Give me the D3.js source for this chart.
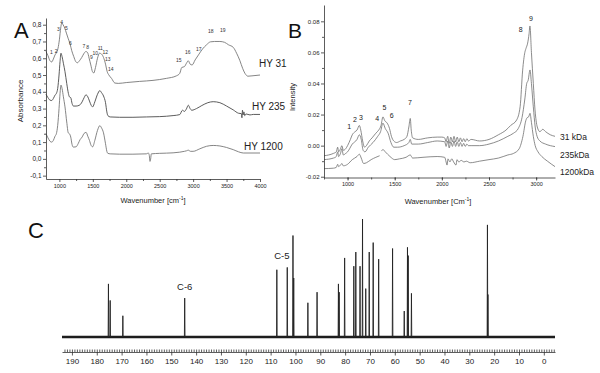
<!DOCTYPE html>
<html>
<head>
<meta charset="utf-8">
<script src="https://cdn.jsdelivr.net/npm/d3@7"></script>
<style>
  body { margin: 0; background: #fff; }
  svg { display: block; font-family: "Liberation Sans", Arial, sans-serif; }
  .axis path, .axis line { stroke: #333; stroke-width: 0.8; }
  .axis text { fill: #222; }
</style>
</head>
<body>
<svg id="chart" width="600" height="373"></svg>
<script>
// ---- panel A: IR spectra [wavenumber, absorbance]
const hy31 = [[800,0.64],[830,0.615],[860,0.585],[885,0.578],[910,0.595],[935,0.62],[955,0.632],[980,0.66],[1000,0.71],[1020,0.78],[1035,0.81],[1055,0.80],[1080,0.78],[1105,0.75],[1130,0.72],[1160,0.685],[1185,0.645],[1215,0.61],[1245,0.58],[1270,0.573],[1300,0.585],[1335,0.605],[1370,0.63],[1395,0.64],[1420,0.635],[1445,0.60],[1470,0.56],[1495,0.52],[1515,0.512],[1540,0.545],[1570,0.60],[1600,0.63],[1630,0.625],[1660,0.605],[1690,0.565],[1715,0.52],[1740,0.50],[1780,0.48],[1830,0.452],[1880,0.45],[2000,0.455],[2200,0.462],[2400,0.468],[2600,0.48],[2750,0.495],[2800,0.51],[2830,0.545],[2870,0.55],[2900,0.57],[2928,0.585],[2955,0.565],[2985,0.56],[3030,0.59],[3080,0.62],[3140,0.655],[3200,0.68],[3260,0.698],[3320,0.70],[3400,0.70],[3470,0.695],[3530,0.68],[3600,0.665],[3650,0.63],[3700,0.585],[3740,0.54],[3775,0.51],[3820,0.493],[3880,0.495],[4000,0.50]];
const hy235 = [[800,0.385],[830,0.365],[860,0.35],[885,0.348],[910,0.36],[935,0.38],[955,0.39],[975,0.42],[995,0.50],[1010,0.58],[1024,0.63],[1040,0.61],[1060,0.57],[1084,0.52],[1110,0.45],[1135,0.39],[1150,0.37],[1170,0.365],[1190,0.33],[1210,0.315],[1250,0.315],[1300,0.32],[1340,0.34],[1370,0.365],[1398,0.382],[1425,0.37],[1450,0.345],[1475,0.32],[1498,0.31],[1530,0.34],[1570,0.385],[1605,0.407],[1630,0.395],[1660,0.375],[1690,0.335],[1710,0.28],[1725,0.258],[1760,0.25],[1900,0.248],[2100,0.248],[2300,0.25],[2500,0.252],[2700,0.258],[2800,0.264],[2840,0.29],[2870,0.283],[2900,0.298],[2928,0.32],[2955,0.30],[2980,0.29],[3050,0.30],[3130,0.318],[3220,0.335],[3300,0.341],[3400,0.335],[3500,0.315],[3600,0.292],[3680,0.272],[3720,0.27],[3730,0.245],[3738,0.29],[3748,0.262],[3760,0.28],[3772,0.258],[3790,0.268],[3850,0.262],[3900,0.265],[4000,0.265]];
const hy1200 = [[800,0.15],[830,0.125],[860,0.105],[885,0.10],[910,0.11],[935,0.135],[955,0.15],[975,0.20],[995,0.30],[1010,0.39],[1024,0.44],[1040,0.42],[1060,0.37],[1084,0.31],[1110,0.22],[1133,0.155],[1150,0.15],[1170,0.13],[1190,0.085],[1210,0.07],[1250,0.072],[1280,0.09],[1310,0.115],[1340,0.13],[1370,0.152],[1400,0.158],[1425,0.135],[1450,0.11],[1475,0.08],[1498,0.072],[1530,0.11],[1570,0.17],[1605,0.198],[1630,0.185],[1660,0.155],[1690,0.09],[1710,0.045],[1725,0.033],[1760,0.03],[1900,0.028],[2100,0.028],[2300,0.03],[2330,0.035],[2345,0.02],[2355,-0.015],[2365,0.0],[2375,0.03],[2500,0.033],[2700,0.036],[2800,0.04],[2870,0.045],[2900,0.048],[2928,0.052],[2960,0.045],[3000,0.045],[3100,0.06],[3200,0.075],[3300,0.08],[3400,0.077],[3500,0.068],[3600,0.055],[3680,0.042],[3750,0.035],[4000,0.035]];
const irNames = ['HY 31', 'HY 235', 'HY 1200'];
const irPeaks = [['1',879,0.637],['2',950,0.641],['3',984,0.77],['4',1035,0.812],['5',1104,0.78],['6',1163,0.689],['7',1368,0.671],['8',1424,0.665],['9',1477,0.606],['10',1537,0.63],['11',1612,0.657],['12',1687,0.636],['13',1723,0.592],['14',1768,0.532],['15',2784,0.586],['16',2919,0.634],['17',3083,0.656],['18',3263,0.759],['19',3442,0.765]];
const irXTicks = [1000,1500,2000,2500,3000,3500,4000];
const irYTicks = [-0.1,0,0.1,0.2,0.3,0.4,0.5,0.6,0.7,0.8];

// ---- panel B: Raman spectra [wavenumber, intensity]
const kda31 = [[750,-0.0065],[800,-0.006],[850,-0.005],[880,-0.004],[895,-0.001],[905,-0.004],[925,-0.002],[940,0.0],[955,-0.003],[980,-0.002],[1000,0.0],[1030,0.004],[1050,0.007],[1080,0.009],[1100,0.010],[1125,0.013],[1140,0.010],[1160,0.003],[1180,-0.001],[1200,0.0],[1230,0.003],[1260,0.005],[1300,0.008],[1330,0.010],[1355,0.013],[1375,0.0185],[1395,0.016],[1420,0.0145],[1445,0.011],[1465,0.006],[1490,0.003],[1520,0.002],[1560,0.003],[1600,0.004],[1630,0.006],[1650,0.012],[1665,0.0175],[1675,0.010],[1690,0.005],[1750,0.004],[1850,0.005],[1950,0.0055],[2000,0.0055],[2030,0.005],[2045,0.0025],[2062,0.006],[2078,0.0015],[2095,0.0055],[2112,0.0025],[2129,0.006],[2146,0.0025],[2163,0.0055],[2180,0.0025],[2197,0.005],[2214,0.0025],[2231,0.0045],[2248,0.0025],[2265,0.0045],[2282,0.003],[2310,0.004],[2400,0.003],[2500,0.004],[2600,0.007],[2680,0.010],[2730,0.013],[2793,0.0165],[2830,0.025],[2857,0.0486],[2880,0.060],[2892,0.0625],[2910,0.066],[2925,0.072],[2934,0.077],[2950,0.060],[2970,0.040],[2988,0.023],[3012,0.012],[3040,0.009],[3070,0.0105],[3100,0.009],[3150,0.007],[3200,0.006]];
const kda235 = [[750,-0.009],[850,-0.008],[880,-0.007],[895,-0.004],[905,-0.007],[925,-0.005],[940,-0.002],[955,-0.006],[980,-0.005],[1000,-0.004],[1050,0.001],[1100,0.004],[1125,0.007],[1145,0.004],[1165,-0.003],[1185,-0.004],[1220,-0.001],[1270,0.002],[1320,0.006],[1350,0.009],[1375,0.0145],[1400,0.011],[1430,0.008],[1460,0.002],[1490,-0.001],[1530,-0.001],[1600,0.0],[1650,0.002],[1665,0.004],[1680,0.001],[1750,0.001],[1850,0.002],[1950,0.003],[2030,0.0025],[2045,-0.0005],[2062,0.003],[2078,-0.0015],[2095,0.0025],[2112,-0.0005],[2129,0.003],[2146,-0.0005],[2163,0.0025],[2180,-0.0005],[2197,0.002],[2214,-0.0005],[2231,0.0015],[2248,-0.0005],[2265,0.001],[2282,0.0],[2310,0.0],[2400,0.0],[2500,0.001],[2600,0.003],[2700,0.006],[2760,0.008],[2810,0.011],[2850,0.018],[2880,0.030],[2900,0.040],[2915,0.042],[2935,0.0487],[2950,0.040],[2970,0.025],[2990,0.012],[3010,0.006],[3040,0.003],[3100,0.001],[3200,-0.0006]];
const kda1200 = [[750,-0.0148],[850,-0.0145],[880,-0.014],[895,-0.012],[905,-0.0135],[925,-0.0125],[940,-0.0115],[955,-0.013],[1000,-0.012],[1050,-0.009],[1100,-0.007],[1125,-0.0055],[1145,-0.008],[1170,-0.0115],[1200,-0.011],[1250,-0.009],[1300,-0.0075],[1340,-0.0065],[1350,null],[1360,-0.0035],[1375,-0.0025],[1400,-0.004],[1450,-0.007],[1500,-0.009],[1550,-0.0085],[1620,-0.0075],[1665,-0.006],[1690,-0.008],[1800,-0.0075],[1950,-0.007],[2030,-0.0075],[2045,-0.0105],[2055,-0.0125],[2065,-0.0085],[2085,-0.0105],[2105,-0.0085],[2125,-0.0105],[2150,-0.0125],[2160,-0.009],[2180,-0.0105],[2205,-0.0095],[2235,-0.0105],[2260,-0.010],[2300,-0.011],[2400,-0.010],[2500,-0.009],[2600,-0.008],[2700,-0.006],[2760,-0.005],[2820,-0.002],[2860,0.006],[2890,0.016],[2905,0.018],[2920,0.0185],[2935,0.0208],[2950,0.015],[2970,0.006],[2990,0.0],[3020,-0.004],[3060,-0.007],[3120,-0.010],[3200,-0.0135]];
const ramanNames = ['31 kDa', '235kDa', '1200kDa'];
const ramanPeaks = [['1',1018,0.0126],['2',1079,0.0165],['3',1142,0.018],['4',1315,0.0176],['5',1390,0.0246],['6',1468,0.0192],['7',1662,0.0276],['8',2837,0.0744],['9',2944,0.0815]];
const ramanXTicks = [1000,1500,2000,2500,3000];
const ramanYTicks = [-0.02,0,0.02,0.04,0.06,0.08];

// ---- panel C: 13C NMR lines [ppm, relative height]
const nmrLines = [[175.3,45],[174.6,31],[169.5,18],[144.6,33],[107.5,57],[103.3,59],[101.0,86],[100.7,50],[95.0,29],[91.3,38],[82.7,45],[82.4,38],[80.2,67],[76.5,60],[75.7,72],[74.0,60],[73.0,100],[71.7,41],[70.3,72],[68.7,80],[66.5,66],[60.9,75],[56.2,22],[54.9,76],[54.6,69],[53.3,37],[22.7,95],[22.5,36]];
const nmrLabels = [['C-6',144.6,40],['C-5',105.5,66]];
const nmrTicks = [190,180,170,160,150,140,130,120,110,100,90,80,70,60,50,40,30,20,10,0];

const svg = d3.select('#chart');

function minorAxis(g, axis) {
    g.call(axis);
    g.select('.domain').remove();
    g.selectAll('text').remove();
}

// ================= A
const xA = d3.scaleLinear().domain([800, 4000]).range([46, 260]);
const yA = d3.scaleLinear().domain([-0.12, 0.84]).range([179, 18]);

const gA = svg.append('g');
const lineA = d3.line().x(d => xA(d[0])).y(d => yA(d[1])).curve(d3.curveMonotoneX);

[hy31, hy235, hy1200].forEach((s, i) => {
    gA.append('path').datum(s)
        .attr('d', lineA)
        .attr('fill', 'none')
        .attr('stroke', i === 1 ? '#4a4a4a' : '#777')
        .attr('stroke-width', 0.9);
});

gA.append('g').attr('class', 'axis').attr('transform', 'translate(0,179)')
    .call(g => minorAxis(g, d3.axisBottom(xA).tickValues(d3.range(1250, 4000, 500)).tickSize(2)));
gA.append('g').attr('class', 'axis').attr('transform', 'translate(0,179)')
    .call(d3.axisBottom(xA).tickValues(irXTicks).tickSize(3).tickSizeOuter(0).tickPadding(2).tickFormat(d3.format('d')))
    .selectAll('text').attr('font-size', 5.5);
gA.append('g').attr('class', 'axis').attr('transform', 'translate(46,0)')
    .call(g => minorAxis(g, d3.axisLeft(yA).tickValues(d3.range(-0.05, 0.84, 0.1)).tickSize(2)));
gA.append('g').attr('class', 'axis').attr('transform', 'translate(46,0)')
    .call(d3.axisLeft(yA).tickValues(irYTicks).tickSize(3).tickSizeOuter(0).tickPadding(1.5)
        .tickFormat(d => d.toFixed(1).replace('.', ',')))
    .selectAll('text').attr('font-size', 6.5);

gA.selectAll('.irpk').data(irPeaks).join('text')
    .attr('x', d => xA(d[1])).attr('y', d => yA(d[2]))
    .attr('dy', '0.35em').attr('text-anchor', 'middle')
    .attr('font-size', 5).attr('fill', '#333').text(d => d[0]);

gA.selectAll('.irname').data(irNames).join('text')
    .attr('x', (d, i) => [259, 252, 244][i])
    .attr('y', (d, i) => [67, 109.5, 150][i])
    .attr('font-size', 10).attr('fill', '#222').text(d => d);

gA.append('text').attr('transform', 'translate(23,101) rotate(-90)')
    .attr('text-anchor', 'middle').attr('font-size', 8).attr('fill', '#222').text('Absorbance');
const wA = gA.append('text').attr('x', 153).attr('y', 203)
    .attr('text-anchor', 'middle').attr('font-size', 7.5).attr('fill', '#222');
wA.append('tspan').text('Wavenumber [cm');
wA.append('tspan').attr('font-size', 5).attr('dy', -3).text('-1');
wA.append('tspan').attr('dy', 3).text(']');
gA.append('text').attr('x', 14).attr('y', 38).attr('font-size', 22).attr('fill', '#111').text('A');

// ================= B
const xB = d3.scaleLinear().domain([750, 3200]).range([324, 555]);
const yB = d3.scaleLinear().domain([-0.0205, 0.0905]).range([177.5, 5]);
const gB = svg.append('g');
const lineB = d3.line().defined(d => d[1] !== null)
    .x(d => xB(d[0])).y(d => yB(d[1])).curve(d3.curveMonotoneX);

[kda31, kda235, kda1200].forEach(s => {
    gB.append('path').datum(s)
        .attr('d', lineB)
        .attr('fill', 'none')
        .attr('stroke', '#6e6e6e')
        .attr('stroke-width', 0.8);
});

gB.append('g').attr('class', 'axis').attr('transform', 'translate(0,177.5)')
    .call(g => minorAxis(g, d3.axisBottom(xB).tickValues(d3.range(750, 3200, 250)).tickSize(2)));
gB.append('g').attr('class', 'axis').attr('transform', 'translate(0,177.5)')
    .call(d3.axisBottom(xB).tickValues(ramanXTicks).tickSize(3).tickSizeOuter(0).tickPadding(2).tickFormat(d3.format('d')))
    .selectAll('text').attr('font-size', 5.5);
gB.append('g').attr('class', 'axis').attr('transform', 'translate(324,0)')
    .call(g => minorAxis(g, d3.axisLeft(yB).tickValues(d3.range(-0.01, 0.09, 0.02)).tickSize(2)));
gB.append('g').attr('class', 'axis').attr('transform', 'translate(324,0)')
    .call(d3.axisLeft(yB).tickValues(ramanYTicks).tickSize(3).tickSizeOuter(0).tickPadding(1.5)
        .tickFormat(d => d.toFixed(2)))
    .selectAll('text').attr('font-size', 6);

gB.selectAll('.rpk').data(ramanPeaks).join('text')
    .attr('x', d => xB(d[1])).attr('y', d => yB(d[2]))
    .attr('dy', '0.35em').attr('text-anchor', 'middle')
    .attr('font-size', 7).attr('fill', '#222').text(d => d[0]);

gB.selectAll('.rname').data(ramanNames).join('text')
    .attr('x', 560)
    .attr('y', (d, i) => [140, 157.5, 175][i])
    .attr('font-size', 8.5).attr('fill', '#222').text(d => d);

gB.append('text').attr('transform', 'translate(295,97) rotate(-90)')
    .attr('text-anchor', 'middle').attr('font-size', 7.5).attr('fill', '#222').text('Intensity');
const wB = gB.append('text').attr('x', 438).attr('y', 204)
    .attr('text-anchor', 'middle').attr('font-size', 7.5).attr('fill', '#222');
wB.append('tspan').text('Wavenumber [Cm');
wB.append('tspan').attr('font-size', 5).attr('dy', -3).text('-1');
wB.append('tspan').attr('dy', 3).text(']');
gB.append('text').attr('x', 288).attr('y', 38).attr('font-size', 21).attr('fill', '#111').text('B');

// ================= C
const xC = d3.scaleLinear().domain([194, -4.5]).range([62, 555]);
const yC = d3.scaleLinear().domain([0, 100]).range([337, 219]);
const gC = svg.append('g');

const nmrPts = [[194, 0]];
nmrLines.slice().sort((a, b) => b[0] - a[0]).forEach(p => {
    nmrPts.push([p[0] + 0.12, 0], [p[0], p[1]], [p[0] - 0.12, 0]);
});
nmrPts.push([-4.5, 0]);

gC.append('line')
    .attr('x1', xC(194)).attr('x2', xC(-4.5))
    .attr('y1', yC(0)).attr('y2', yC(0))
    .attr('stroke', '#1a1a1a').attr('stroke-width', 2.4);
gC.append('path').datum(nmrPts)
    .attr('d', d3.line().x(d => xC(d[0])).y(d => yC(d[1])))
    .attr('fill', 'none').attr('stroke', '#222').attr('stroke-width', 0.9);

gC.append('g').attr('class', 'axis').attr('transform', 'translate(0,352)')
    .call(g => minorAxis(g, d3.axisBottom(xC).tickValues(d3.range(-4, 194, 1)).tickSize(-2.5)))
    .selectAll('line').attr('stroke', '#777').attr('stroke-width', 0.6);
gC.append('g').attr('class', 'axis').attr('transform', 'translate(0,352)')
    .call(d3.axisBottom(xC).tickValues(nmrTicks).tickSize(3.5).tickSizeOuter(0).tickPadding(3).tickFormat(d3.format('d')))
    .call(g => g.select('.domain').attr('stroke', '#777').attr('stroke-width', 0.6))
    .selectAll('text').attr('font-size', 8);

gC.selectAll('.nlab').data(nmrLabels).join('text')
    .attr('x', d => xC(d[1])).attr('y', d => yC(d[2]))
    .attr('text-anchor', 'middle').attr('font-size', 9.5).attr('fill', '#222').text(d => d[0]);

gC.append('text').attr('x', 28).attr('y', 238).attr('font-size', 22).attr('fill', '#111').text('C');
</script>
</body>
</html>
